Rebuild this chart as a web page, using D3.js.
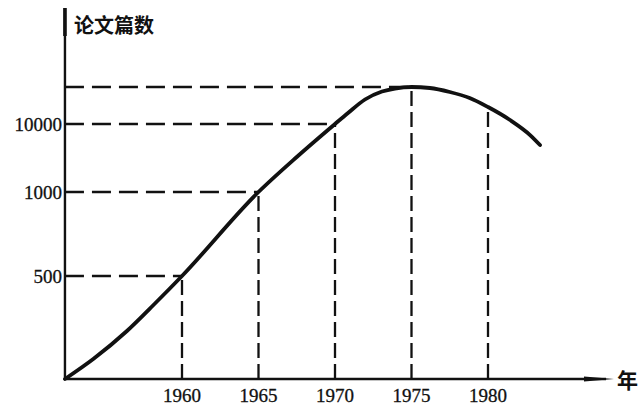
<!DOCTYPE html>
<html>
<head>
<meta charset="utf-8">
<script src="https://cdn.jsdelivr.net/npm/d3@7"></script>
<style>
  body { margin: 0; background: #fff; }
  svg { display: block; }
</style>
</head>
<body>
<div id="chart"></div>
<script>
// papers per year (value axis is not linear)
var years = [1952.35, 1954.2, 1956.4, 1958.2, 1960, 1965, 1967.5, 1970, 1970.85, 1971.96, 1973.07, 1973.92, 1975, 1976.2, 1977.5, 1978.8, 1980, 1981.44, 1982.75, 1983.4];
var papers = [0, 97, 233, 364, 500, 1000, 5630, 10000, 12970, 16620, 18780, 19590, 20000, 19730, 18650, 17030, 14590, 11080, 8540, 7220];

var yTickValues = [500, 1000, 10000];
var yTickLabels = ['500', '1000', '10000'];
var xTickValues = [1960, 1965, 1970, 1975, 1980];
var peakValue = 20000; // unlabeled top guide line

// guides: [year, value] where dashed lines meet the curve
var guides = [[1960, 500], [1965, 1000], [1970, 10000], [1975, 20000], [1980, 14590]];

var width = 638, height = 406;

var svg = d3.select('#chart').append('svg')
  .attr('width', width)
  .attr('height', height);

var x = d3.scaleLinear().domain([1960, 1980]).range([182, 488]);
// piecewise axis as drawn in the original
var y = d3.scaleLinear()
  .domain([0, 500, 1000, 10000, peakValue])
  .range([379, 276, 192, 124, 87]);

var x0 = x(years[0]);

var ink = '#111';

// dashed guides
var g = svg.append('g')
  .attr('stroke', ink)
  .attr('stroke-width', 2.3)
  .attr('fill', 'none');

guides.forEach(function(d, i) {
  // vertical from x axis up to curve
  g.append('line')
    .attr('x1', x(d[0])).attr('x2', x(d[0]))
    .attr('y1', y(0)).attr('y2', y(d[1]))
    .attr('stroke-dasharray', '15,6');
  // horizontal from y axis (not for 1980)
  if (i < 4) {
    g.append('line')
      .attr('x1', x0).attr('x2', x(d[0]))
      .attr('y1', y(d[1])).attr('y2', y(d[1]))
      .attr('stroke-dasharray', '19,8');
  }
});

// the curve
var line = d3.line()
  .x(function(d, i) { return x(years[i]); })
  .y(function(d) { return y(d); })
  .curve(d3.curveMonotoneX);

svg.append('path')
  .datum(papers)
  .attr('d', line)
  .attr('fill', 'none')
  .attr('stroke', ink)
  .attr('stroke-width', 3.8)
  .attr('stroke-linecap', 'round');

// axes
svg.append('line')
  .attr('x1', x0).attr('x2', x0)
  .attr('y1', 8).attr('y2', y(0) + 1)
  .attr('stroke', ink).attr('stroke-width', 2.4);
svg.append('line')
  .attr('x1', x0).attr('x2', x0)
  .attr('y1', 8).attr('y2', 36)
  .attr('stroke', ink).attr('stroke-width', 3.6);

svg.append('line')
  .attr('x1', x0).attr('x2', 606)
  .attr('y1', y(0)).attr('y2', y(0))
  .attr('stroke', ink).attr('stroke-width', 2.3);
svg.append('path')
  .attr('d', 'M584,' + (y(0) - 2.6) + 'L614,' + y(0) + 'L584,' + (y(0) + 2.6) + 'Z')
  .attr('fill', ink);

// y tick labels
svg.append('g').selectAll('text')
  .data(yTickValues)
  .join('text')
  .attr('x', x0 - 3)
  .attr('y', function(d) { return y(d); })
  .attr('dy', '0.35em')
  .attr('text-anchor', 'end')
  .attr('font-family', '"Liberation Serif", "DejaVu Serif", serif')
  .attr('font-size', 19)
  .attr('fill', ink)
  .attr('stroke', ink)
  .attr('stroke-width', 0.3)
  .text(function(d, i) { return yTickLabels[i]; });

// x tick labels
svg.append('g').selectAll('text')
  .data(xTickValues)
  .join('text')
  .attr('x', function(d) { return x(d); })
  .attr('y', 402)
  .attr('text-anchor', 'middle')
  .attr('font-family', '"Liberation Serif", "DejaVu Serif", serif')
  .attr('font-size', 19)
  .attr('fill', ink)
  .attr('stroke', ink)
  .attr('stroke-width', 0.3)
  .text(function(d) { return d; });

// axis titles
svg.append('text')
  .attr('x', 74).attr('y', 24)
  .attr('dominant-baseline', 'central')
  .attr('font-family', '"Noto Sans CJK SC", sans-serif')
  .attr('font-weight', 'bold')
  .attr('font-size', 20)
  .attr('fill', ink)
  .text('论文篇数');

svg.append('text')
  .attr('x', 617).attr('y', y(0))
  .attr('dominant-baseline', 'central')
  .attr('font-family', '"Noto Sans CJK SC", sans-serif')
  .attr('font-weight', 'bold')
  .attr('font-size', 21)
  .attr('fill', ink)
  .text('年');
</script>
</body>
</html>
